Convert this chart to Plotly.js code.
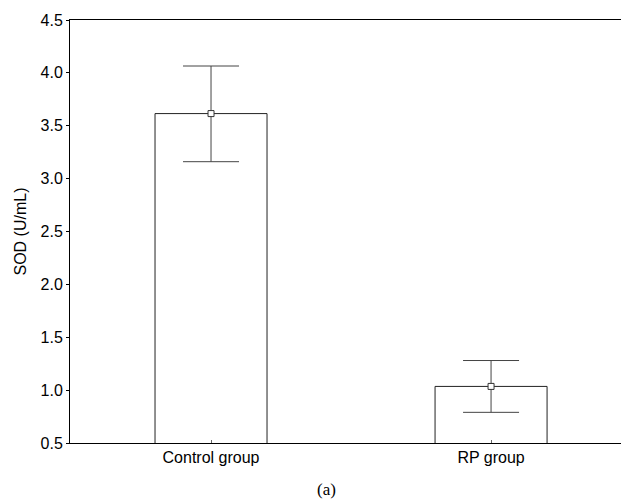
<!DOCTYPE html>
<html>
<head>
<meta charset="utf-8">
<script src="https://cdn.plot.ly/plotly-3.0.1.min.js"></script>
<style>html,body{margin:0;padding:0;background:#fff;}#chart{width:621px;height:502px;}</style>
</head>
<body>
<div id="chart"></div>
<script>
var categories = ["Control group", "RP group"];
var means = [3.615, 1.035];
var errUpper = [0.45, 0.245];
var errLower = [0.455, 0.245];
var yTicks = [0.5, 1.0, 1.5, 2.0, 2.5, 3.0, 3.5, 4.0, 4.5];
var yTickText = ["0.5", "1.0", "1.5", "2.0", "2.5", "3.0", "3.5", "4.0", "4.5"];

var bars = {
  type: "bar",
  x: [0, 1],
  y: means,
  base: 0,
  width: 0.4,
  marker: {color: "#ffffff", line: {color: "#222222", width: 1}},
  hoverinfo: "skip",
  showlegend: false
};
var errs = {
  type: "scatter",
  mode: "markers",
  x: [0, 1],
  y: means,
  marker: {symbol: "square", size: 6, color: "#ffffff", line: {color: "#333333", width: 1}},
  error_y: {type: "data", symmetric: false, array: errUpper, arrayminus: errLower, color: "#444444", thickness: 1, width: 28},
  showlegend: false
};
var layout = {
  width: 621, height: 502,
  margin: {l: 70, r: 0, t: 20, b: 59},
  paper_bgcolor: "#ffffff", plot_bgcolor: "#ffffff",
  font: {family: "Liberation Sans, Arial, sans-serif", size: 16, color: "#000000"},
  xaxis: {
    range: [-0.5036, 1.464],
    tickvals: [0, 1], ticktext: categories,
    ticks: "inside", ticklen: 3, tickcolor: "#666666",
    showline: true, linecolor: "#000000", linewidth: 1, mirror: true,
    showgrid: false, zeroline: false, fixedrange: true
  },
  yaxis: {
    range: [0.5, 4.5],
    tickvals: yTicks, ticktext: yTickText,
    ticks: "outside", ticklen: 3, tickcolor: "#000000",
    showline: true, linecolor: "#000000", linewidth: 1,
    showgrid: false, zeroline: false,
    title: {text: "SOD (U/mL)", standoff: 9, font: {size: 16}}
  },
  annotations: [{
    text: "(a)", xref: "paper", yref: "paper", x: 0.465, y: -0.11,
    xanchor: "center", yanchor: "middle", showarrow: false,
    font: {family: "Liberation Serif, Times New Roman, serif", size: 17, color: "#000000"}
  }]
};
Plotly.newPlot("chart", [bars, errs], layout, {displayModeBar: false, staticPlot: true});
</script>
</body>
</html>
